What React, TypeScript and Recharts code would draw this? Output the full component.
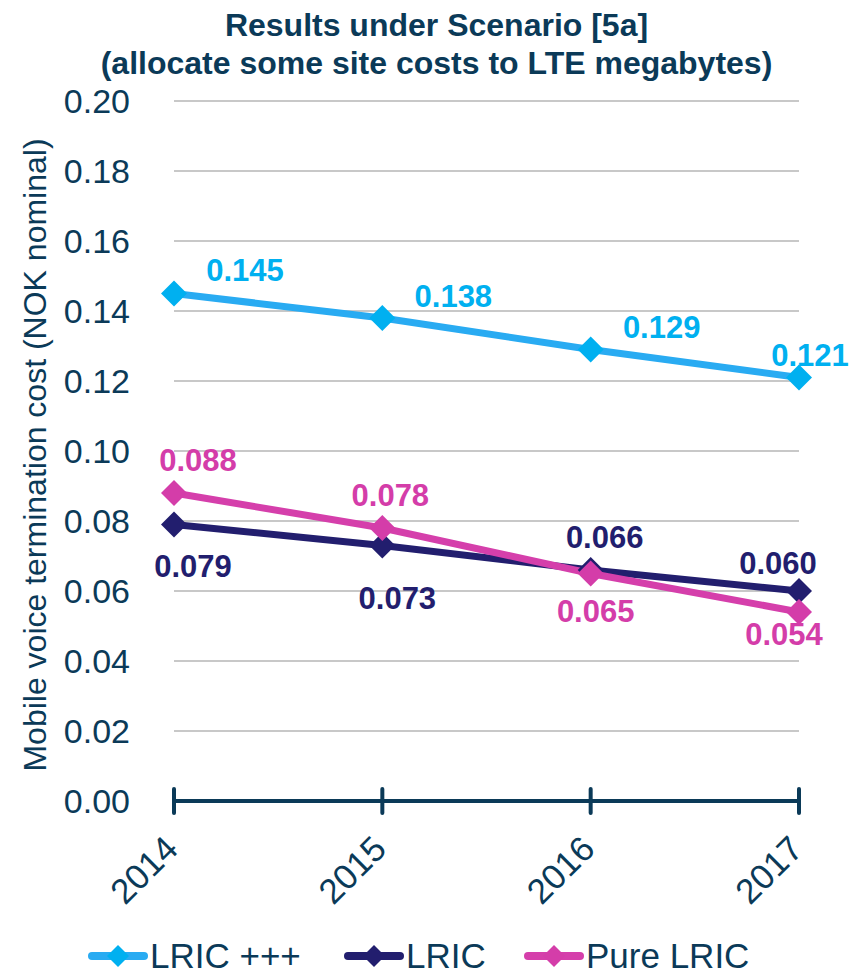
import React from "react";
import { LineChart, Line, XAxis, YAxis, CartesianGrid, LabelList } from "recharts";

const years = ["2014", "2015", "2016", "2017"];
const lricPlus = [0.145, 0.138, 0.129, 0.121];
const lric = [0.079, 0.073, 0.066, 0.06];
const pureLric = [0.088, 0.078, 0.065, 0.054];
const yTicks = [0, 0.02, 0.04, 0.06, 0.08, 0.1, 0.12, 0.14, 0.16, 0.18, 0.2];

const data = years.map((year, i) => ({
  year,
  lricPlus: lricPlus[i],
  lric: lric[i],
  pureLric: pureLric[i],
}));

const NAVY = "#0B3A58";
const FONT = '"Liberation Sans", Arial, sans-serif';

// label offsets (text centre relative to point), per series; legX = legend icon start
const series = [
  { key: "lricPlus", name: "LRIC +++", line: "#29ABF2", marker: "#00B0F0", text: "#00B0F0", legX: 88,
    offs: [[71, -23], [71, -22], [71, -22], [11, -22]] },
  { key: "lric", name: "LRIC", line: "#221E6E", marker: "#221E6E", text: "#221E6E", legX: 344,
    offs: [[19, 42], [15, 53], [14, -33], [-21, -28]] },
  { key: "pureLric", name: "Pure LRIC", line: "#D53FAB", marker: "#D43DA9", text: "#D43DA9", legX: 524,
    offs: [[24, -33], [8, -33], [5, 38], [-15, 22]] },
];

const diamond = (cx: number, cy: number, r: number) =>
  `M${cx},${cy - r} L${cx + r},${cy} L${cx},${cy + r} L${cx - r},${cy} Z`;

function XTick(props: any) {
  const { x, y, payload } = props;
  const tx = x + 6;
  const ty = y + 50;
  return (
    <g>
      <line x1={x} y1={y - 12} x2={x} y2={y + 12} stroke={NAVY} strokeWidth={4} strokeLinecap="round" />
      <text
        x={tx}
        y={ty}
        transform={`rotate(-45 ${tx} ${ty})`}
        textAnchor="end"
        fontSize={35}
        fontFamily={FONT}
        fill={NAVY}
      >
        {payload.value}
      </text>
    </g>
  );
}

export default function App() {
  return (
    <div style={{ position: "absolute", left: 0, top: 0, width: 853, height: 976, background: "#fff" }}>
      <div
        style={{
          position: "absolute", left: 10, top: 6, width: 853, textAlign: "center",
          fontFamily: FONT, fontWeight: "bold", fontSize: 32, lineHeight: "38px", color: NAVY,
        }}
      >
        Results under Scenario [5a]
        <br />
        (allocate some site costs to LTE megabytes)
      </div>

      <LineChart width={853} height={976} data={data} margin={{ top: 101, right: 54, bottom: 0, left: 0 }}>
        <CartesianGrid vertical={false} stroke="#C8C8C8" strokeWidth={2} />
        <XAxis
          dataKey="year"
          height={175}
          axisLine={{ stroke: NAVY, strokeWidth: 4 }}
          tickLine={false}
          tickSize={0}
          tickMargin={0}
          interval={0}
          tick={<XTick />}
        />
        <YAxis
          width={174}
          domain={[0, 0.2]}
          ticks={yTicks}
          interval={0}
          axisLine={false}
          tickLine={false}
          tickSize={0}
          tickMargin={44}
          tickFormatter={(v: number) => v.toFixed(2)}
          tick={{ fontSize: 34, fontFamily: FONT, fill: NAVY }}
          label={{
            content: () => (
              <text
                x={35}
                y={455}
                transform="rotate(-90 35 455)"
                textAnchor="middle"
                dominantBaseline="central"
                fontSize={32}
                fontFamily={FONT}
                fill={NAVY}
              >
                Mobile voice termination cost (NOK nominal)
              </text>
            ),
          }}
        />
        {series.map((s) => (
          <Line
            key={s.key}
            dataKey={s.key}
            name={s.name}
            type="linear"
            stroke={s.line}
            strokeWidth={7}
            isAnimationActive={false}
            activeDot={false}
            dot={(p: any) => <path key={`${s.key}-${p.index}`} d={diamond(p.cx, p.cy, 13)} fill={s.marker} />}
          >
            <LabelList
              dataKey={s.key}
              content={(p: any) => {
                const o = s.offs[p.index] || [0, -25];
                return (
                  <text
                    x={p.x + o[0]}
                    y={p.y + o[1]}
                    textAnchor="middle"
                    dominantBaseline="central"
                    fontSize={31}
                    fontWeight="bold"
                    fontFamily={FONT}
                    fill={s.text}
                  >
                    {Number(p.value).toFixed(3)}
                  </text>
                );
              }}
            />
          </Line>
        ))}
      </LineChart>

      <svg
        width={853}
        height={46}
        style={{ position: "absolute", left: 0, top: 930 }}
      >
        {series.map((s) => (
          <g key={s.key}>
            <line x1={s.legX + 4} y1={26} x2={s.legX + 56} y2={26} stroke={s.line} strokeWidth={8} strokeLinecap="round" />
            <path d={diamond(s.legX + 30, 26, 11)} fill={s.marker} />
            <text x={s.legX + 62} y={38} fontSize={35} fontFamily={FONT} fill={NAVY}>
              {s.name}
            </text>
          </g>
        ))}
      </svg>
    </div>
  );
}
